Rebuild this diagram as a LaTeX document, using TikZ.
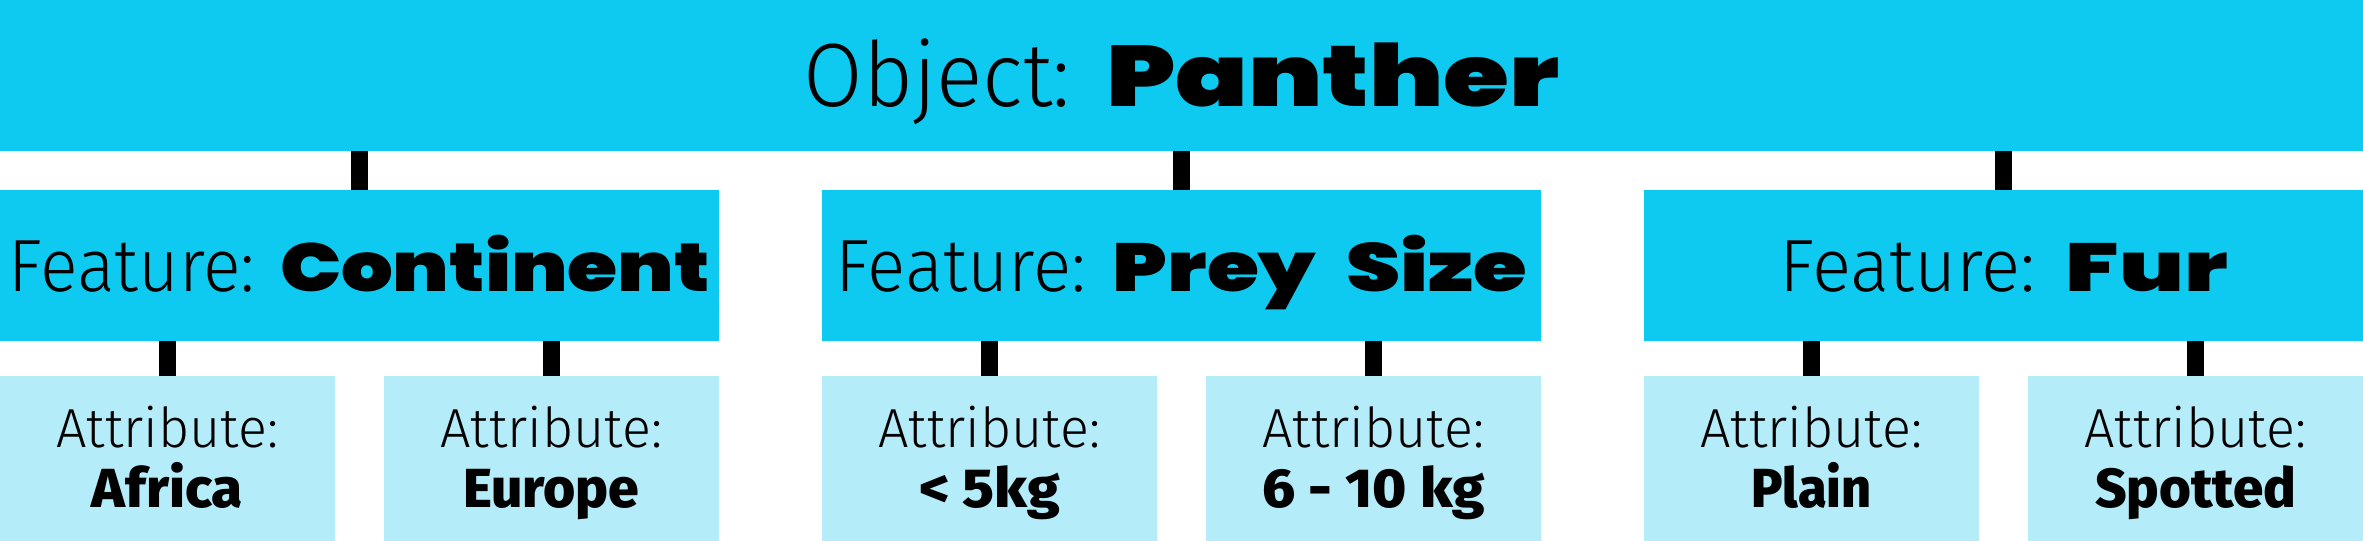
\documentclass[tikz,border=0pt]{standalone}
\usepackage{graphicx}
\usepackage{fontspec}
\newfontfamily\regf{Fira Sans Light}
\newfontfamily\widef{Poppins Black}
\newfontfamily\condf{Fira Sans ExtraBold}
\newcommand\fitw[2]{\resizebox{#1}{\height}{#2}}
\definecolor{topc}{HTML}{0FCAF0}
\definecolor{attrc}{HTML}{B4ECF9}
\tikzset{
  objbox/.style={fill=topc, draw=none, minimum width=1181.5pt, minimum height=75.5pt, inner sep=0pt, outer sep=0pt},
  featbox/.style={fill=topc, draw=none, minimum width=359.5pt, minimum height=75.5pt, inner sep=0pt, outer sep=0pt},
  attrbox/.style={fill=attrc, draw=none, minimum width=167.5pt, minimum height=82.5pt, inner sep=0pt, outer sep=0pt},
  link/.style={line width=8.5pt, black},
  txt/.style={anchor=base, inner sep=0pt, outer sep=0pt},
  attrtxt/.style={txt, font=\fontsize{27.5}{32}\selectfont\regf},
  valtxt/.style={txt, font=\fontsize{27.5}{32}\selectfont\condf}
}
\newcommand\feat[3]{\fitw{#1}{\fontsize{37}{44}\selectfont\regf Feature:}\hspace{#2}#3}
\newcommand\wword[2]{\fitw{#1}{\fontsize{34}{40}\selectfont\widef #2}}
\begin{document}
\begin{tikzpicture}[x=0.5pt,y=-0.5pt]
\useasboundingbox (0,0) rectangle (2363,541);
% boxes
\node[objbox] (obj) at (1181.5,75.5) {};
\node[featbox] (fcont) at (359.5,265.5) {};
\node[featbox] (fprey) at (1181.5,265.5) {};
\node[featbox] (ffur) at (2003.5,265.5) {};
\node[attrbox] (aafr) at (167.5,458.5) {};
\node[attrbox] (aeur) at (551.5,458.5) {};
\node[attrbox] (alt5) at (989.5,458.5) {};
\node[attrbox] (a610) at (1373.5,458.5) {};
\node[attrbox] (aplain) at (1811.5,458.5) {};
\node[attrbox] (aspot) at (2195.5,458.5) {};
% connectors
\foreach \f in {fcont,fprey,ffur} \draw[link] (obj.south -| \f.north) -- (\f.north);
\draw[link] (fcont.south -| aafr.north) -- (aafr.north);
\draw[link] (fcont.south -| aeur.north) -- (aeur.north);
\draw[link] (fprey.south -| alt5.north) -- (alt5.north);
\draw[link] (fprey.south -| a610.north) -- (a610.north);
\draw[link] (ffur.south -| aplain.north) -- (aplain.north);
\draw[link] (ffur.south -| aspot.north) -- (aspot.north);
% texts
\node[txt] (tobj) at (1181.5,106.5) {\fitw{133.5pt}{\fontsize{45}{54}\selectfont\regf Object:}\hspace{18pt}\fitw{226.5pt}{\fontsize{43}{50}\selectfont\widef Panther}};
\node[txt] (tcont) at (359.5,291.5) {\feat{123pt}{12.5pt}{\wword{215pt}{Continent}}};
\node[txt] (tprey) at (1181.5,291.5) {\feat{125pt}{13.5pt}{\wword{101.5pt}{Prey}\hspace{15pt}\wword{90.5pt}{Size}}};
\node[txt] (tfur) at (2003.5,291.5) {\feat{128pt}{15pt}{\wword{81pt}{Fur}}};
\foreach \a/\v/\w in {aafr/Africa/75.5pt, aeur/Europe/88pt, alt5/{< 5kg}/70.5pt, a610/{6 - 10 kg}/111.5pt, aplain/Plain/60pt, aspot/Spotted/100.5pt} {
  \node[attrtxt] (t\a) at ([yshift=-35.75pt]\a.north) {\fitw{111pt}{Attribute:}};
  \node[valtxt] (v\a) at ([yshift=-65.75pt]\a.north) {\fitw{\w}{\v}};
}
\end{tikzpicture}
\end{document}
